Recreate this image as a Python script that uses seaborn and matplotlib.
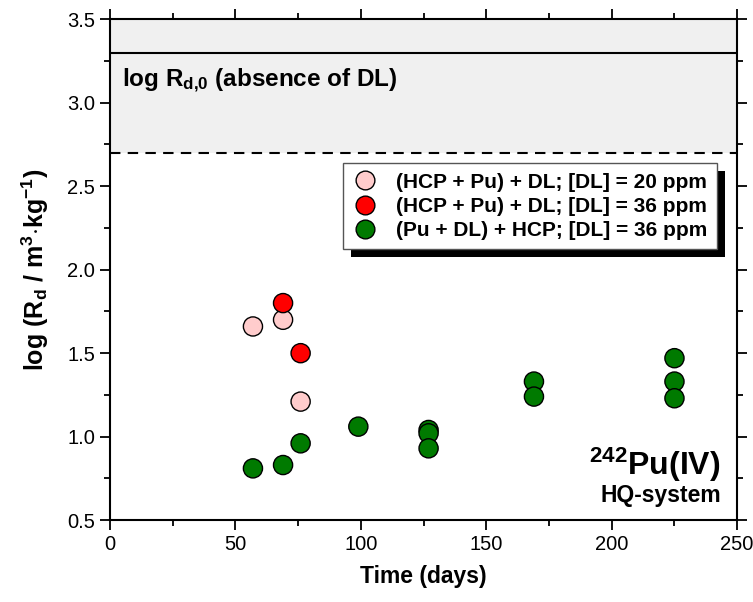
import numpy as np
import pandas as pd
import matplotlib
matplotlib.use("Agg")
import matplotlib.pyplot as plt
import matplotlib.patches as mpatches
from matplotlib.ticker import MultipleLocator, FormatStrFormatter
import seaborn as sns

# data
series_names = ["(HCP + Pu) + DL; [DL] = 20 ppm",
                "(HCP + Pu) + DL; [DL] = 36 ppm",
                "(Pu + DL) + HCP; [DL] = 36 ppm"]
t_pink = [57, 69, 76]
logrd_pink = [1.66, 1.70, 1.21]
t_red = [69, 76]
logrd_red = [1.80, 1.50]
t_green = [57, 69, 76, 99, 127, 127, 127, 169, 169, 225, 225, 225]
logrd_green = [0.81, 0.83, 0.96, 1.06, 1.04, 1.02, 0.93, 1.33, 1.24, 1.47, 1.33, 1.23]
colors = ["#FFCCCC", "#FF0000", "#007A00"]
rd0_low, rd0_mid, rd0_high = 2.7, 3.3, 3.5

df = pd.DataFrame({
    "t": t_pink + t_red + t_green,
    "logrd": logrd_pink + logrd_red + logrd_green,
    "series": [series_names[0]] * len(t_pink) + [series_names[1]] * len(t_red)
              + [series_names[2]] * len(t_green),
})

sns.set_style("ticks")
plt.rcParams["font.family"] = ["Liberation Sans", "DejaVu Sans"]
plt.rcParams["mathtext.fontset"] = "custom"
plt.rcParams["mathtext.rm"] = "Liberation Sans:bold"
plt.rcParams["mathtext.bf"] = "Liberation Sans:bold"
plt.rcParams["mathtext.default"] = "bf"
for k in ["text.color", "axes.labelcolor", "xtick.color", "ytick.color"]:
    plt.rcParams[k] = "black"

fig = plt.figure(figsize=(7.53, 6.02), dpi=100)
ax = fig.add_axes([0.146, 0.136, 0.833, 0.832])

# region of log Rd,0 (absence of DL)
ax.axhspan(rd0_low, rd0_high, color="#F0F0F0", zorder=0, lw=0)
ax.axhline(rd0_mid, color="black", lw=1.5, zorder=1)
ax.axhline(rd0_low, color="black", lw=1.5, ls=(0, (5, 3.5)), zorder=1)

sns.scatterplot(data=df, x="t", y="logrd", hue="series", hue_order=series_names,
                palette=colors, s=190, edgecolor="black", linewidth=1.0,
                ax=ax, zorder=3, legend=True)

ax.set_xlim(0, 250)
ax.set_ylim(0.5, 3.5)
ax.xaxis.set_major_locator(MultipleLocator(50))
ax.xaxis.set_minor_locator(MultipleLocator(25))
ax.yaxis.set_major_locator(MultipleLocator(0.5))
ax.yaxis.set_minor_locator(MultipleLocator(0.25))
ax.yaxis.set_major_formatter(FormatStrFormatter("%.1f"))
ax.tick_params(which="both", direction="out", top=True, right=True,
               labeltop=False, labelright=False, width=1.3, color="black")
ax.tick_params(which="major", length=7, labelsize=14.5)
ax.tick_params(which="minor", length=4)
for sp in ax.spines.values():
    sp.set_linewidth(1.5)
    sp.set_color("black")

ax.set_xlabel("Time (days)", fontsize=16.5, fontweight="bold", labelpad=8)
ax.set_ylabel(r"log (R$_d$ / m$^3$$\cdot$kg$^{-1}$)", fontsize=18,
              fontweight="bold", labelpad=12)

ax.text(5, 3.13, r"log R$_{d{,}0}$ (absence of DL)", fontsize=17.5,
        fontweight="bold", va="center", ha="left")
ax.text(243.5, 0.77, r"$^{242}$Pu(IV)", fontsize=23, fontweight="bold",
        ha="right", va="baseline")
ax.text(243.5, 0.608, "HQ-system", fontsize=16.5, fontweight="bold",
        ha="right", va="baseline")

handles, labels = ax.get_legend_handles_labels()
for h in handles:
    h.set_markeredgecolor("black")
    h.set_markeredgewidth(1.0)
    h.set_markersize(13.5)
leg = ax.legend(handles, labels, loc="upper right", bbox_to_anchor=(0.968, 0.7126),
                frameon=True, fancybox=False, framealpha=1, edgecolor="#555555",
                prop={"weight": "bold", "size": 15}, handlelength=1.2,
                handletextpad=0.9, borderpad=0.45, labelspacing=0.25,
                borderaxespad=0)
leg.get_frame().set_linewidth(1.0)
leg.set_zorder(6)

# black drop shadow behind the legend
fig.canvas.draw()
bb = leg.get_window_extent().transformed(ax.transAxes.inverted())
dx = 8 / (ax.get_window_extent().width)
dy = 8 / (ax.get_window_extent().height)
ax.add_patch(mpatches.Rectangle((bb.x0 + dx, bb.y0 - dy), bb.width, bb.height,
                                transform=ax.transAxes, facecolor="black",
                                edgecolor="none", zorder=5.5, clip_on=False))

fig.savefig("out.png", dpi=100)
